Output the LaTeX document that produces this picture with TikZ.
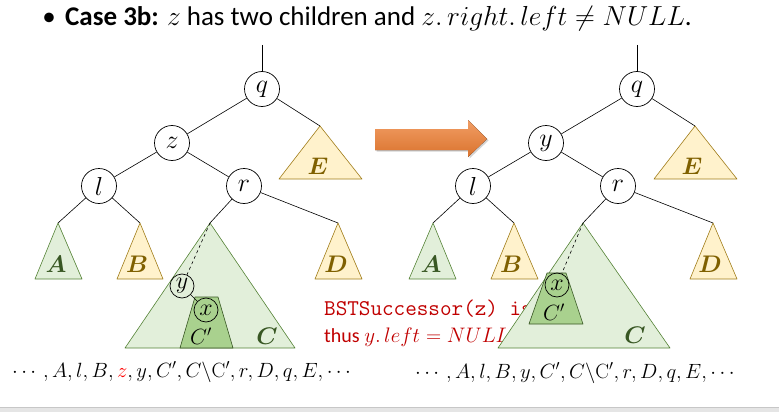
\RequirePackage{fix-cm}
\documentclass[tikz,border=0pt]{standalone}
\usepackage[no-math]{fontspec}
\setmainfont{Carlito}
\usepackage{amsmath,bm}
\usepackage{tkz-euclide}
\usetikzlibrary{shadows}
\definecolor{GreenFill}{RGB}{226,239,218}
\definecolor{GreenLine}{RGB}{84,130,53}
\definecolor{GreenDark}{RGB}{56,87,35}
\definecolor{GoldFill}{RGB}{255,242,204}
\definecolor{GoldLine}{RGB}{160,124,24}
\definecolor{GoldDark}{RGB}{127,96,0}
\definecolor{CpFill}{RGB}{169,209,142}
\definecolor{NoteRed}{RGB}{192,0,0}
\definecolor{ArrowClr}{RGB}{237,125,49}

\tikzset{
  keynode/.style={circle,draw,fill=white,line width=0.7pt,minimum size=35pt,
    inner sep=0pt,font=\fontsize{26}{26}\selectfont},
  smallnode/.style={circle,draw,line width=0.7pt,minimum size=24pt,
    inner sep=0pt,font=\fontsize{24}{24}\selectfont},
  edge/.style={line width=0.6pt},
  greenlbl/.style={text=GreenDark,font=\fontsize{24}{24}\selectfont},
  goldlbl/.style={text=GoldDark,font=\fontsize{24}{24}\selectfont},
  seqtext/.style={anchor=base west,inner sep=0pt,font=\fontsize{20.6}{22}\selectfont}
}

\begin{document}
\begin{tikzpicture}[x=1pt,y=-1pt]
\useasboundingbox (0,0) rectangle (779,412);
\tkzSetUpLine[line width=0.6pt]

% bottom strip
\fill[black!10] (0,407) rectangle (779,412);
\draw[black!22] (0,407) -- (779,407);

% title
\node[anchor=base,inner sep=0pt,font=\fontsize{27}{30}\selectfont] (bul) at (49,26) {\textbullet};
\node[anchor=base west,inner sep=0pt,font=\fontsize{27}{30}\selectfont] (title) at (65,26)
  {\textbf{Case 3b:} {\fontsize{27.5}{30}\selectfont$z$} has two children and
   {\fontsize{27.5}{30}\selectfont$z.\,right.\,left \neq NULL$}.};

% subtree corners, left tree
\tkzDefPoints{58/223/At,35/279/Al,82/279/Ar,
  140/223/Bt,117/279/Bl,163/279/Br,
  338/223/Dt,315/279/Dl,362/279/Dr,
  320/126/Et,279/179/El,362/179/Er,
  210/223/Ct,125/348/Cl,295/348/Cr,
  195/297/Pa,218/297/Pb,233/348/Pc,180/348/Pd}
% subtree corners, right tree
\tkzDefPoints{433/223/At2,409/279/Al2,456/279/Ar2,
  514/223/Bt2,491/279/Bl2,538/279/Br2,
  713/223/Dt2,690/279/Dl2,737/279/Dr2,
  695/126/Et2,654/179/El2,737/179/Er2,
  583/223/Ct2,498/348/Cl2,670/348/Cr2,
  547/273/Pa2,566/273/Pb2,583/324/Pc2,529/324/Pd2}

% left tree subtrees
\tkzFillPolygon[fill=GreenFill](At,Al,Ar)
\tkzDrawPolygon[color=GreenLine](At,Al,Ar)
\tkzFillPolygon[fill=GoldFill](Bt,Bl,Br)
\tkzDrawPolygon[color=GoldLine](Bt,Bl,Br)
\tkzFillPolygon[fill=GoldFill](Dt,Dl,Dr)
\tkzDrawPolygon[color=GoldLine](Dt,Dl,Dr)
\tkzFillPolygon[fill=GoldFill](Et,El,Er)
\tkzDrawPolygon[color=GoldLine](Et,El,Er)
\tkzFillPolygon[fill=GreenFill](Ct,Cl,Cr)
\tkzDrawPolygon[color=GreenLine](Ct,Cl,Cr)
\tkzFillPolygon[fill=CpFill](Pa,Pb,Pc,Pd)
\tkzDrawPolygon[color=GreenDark](Pa,Pb,Pc,Pd)

\node[greenlbl] (lA) at (56,264) {$\bm{A}$};
\node[goldlbl] (lB) at (137,264) {$\bm{B}$};
\node[goldlbl] (lD) at (336,264) {$\bm{D}$};
\node[goldlbl] (lE) at (318,166) {$\bm{E}$};
\node[greenlbl] (lC) at (267,336) {$\bm{C}$};
\node[font=\fontsize{22}{22}\selectfont] (lP) at (201,336) {$C'$};

% left tree keys
\node[keynode] (q) at (262,89) {$q$};
\node[keynode] (z) at (172,143) {$z$};
\node[keynode] (l) at (99,186) {$l$};
\node[keynode] (r) at (244,186) {$r$};
\node[smallnode] (y) at (182,286) {$y$};
\node[smallnode] (x) at (206,310) {$x$};
\coordinate (qin) at (262,45);

\draw[edge] (qin) -- (q);
\draw[edge] (q) -- (z);
\draw[edge] (q) -- (Et);
\draw[edge] (z) -- (l);
\draw[edge] (z) -- (r);
\draw[edge] (l) -- (At);
\draw[edge] (l) -- (Bt);
\draw[edge] (r) -- (Ct);
\draw[edge] (r) -- (Dt);
\draw[edge,dashed] (Ct) -- (y);
\draw[edge] (y) -- (x);

% arrow
\fill[drop shadow={shadow xshift=1.5pt,shadow yshift=-1.5pt,opacity=0.35},
  top color=ArrowClr!75!white,bottom color=ArrowClr!92!black]
  (375,129) -- (468,129) -- (468,120) -- (487,139) -- (468,157)
  -- (468,150) -- (375,150) -- cycle;

% note, partly hidden by the right tree
\node[anchor=base west,inner sep=0pt,text=NoteRed,font=\fontsize{22.5}{22}\ttfamily] (note1)
  at (324,315) {BSTSuccessor(z) is};
\node[anchor=base west,inner sep=0pt,text=NoteRed,font=\fontsize{20}{20}\selectfont] (note2)
  at (324,342) {thus {\fontsize{21}{21}\selectfont$y.\,left = NULL$}};

% right tree subtrees
\tkzFillPolygon[fill=GreenFill](At2,Al2,Ar2)
\tkzDrawPolygon[color=GreenLine](At2,Al2,Ar2)
\tkzFillPolygon[fill=GoldFill](Bt2,Bl2,Br2)
\tkzDrawPolygon[color=GoldLine](Bt2,Bl2,Br2)
\tkzFillPolygon[fill=GoldFill](Dt2,Dl2,Dr2)
\tkzDrawPolygon[color=GoldLine](Dt2,Dl2,Dr2)
\tkzFillPolygon[fill=GoldFill](Et2,El2,Er2)
\tkzDrawPolygon[color=GoldLine](Et2,El2,Er2)
\tkzFillPolygon[fill=GreenFill](Ct2,Cl2,Cr2)
\tkzDrawPolygon[color=GreenLine](Ct2,Cl2,Cr2)
\tkzFillPolygon[fill=CpFill](Pa2,Pb2,Pc2,Pd2)
\tkzDrawPolygon[color=GreenDark](Pa2,Pb2,Pc2,Pd2)

\node[greenlbl] (lA2) at (431,264) {$\bm{A}$};
\node[goldlbl] (lB2) at (511,264) {$\bm{B}$};
\node[goldlbl] (lD2) at (710,264) {$\bm{D}$};
\node[goldlbl] (lE2) at (692,166) {$\bm{E}$};
\node[greenlbl] (lC2) at (635,335) {$\bm{C}$};
\node[font=\fontsize{22}{22}\selectfont] (lP2) at (554,312) {$C'$};

% right tree keys
\node[keynode] (q2) at (637,89) {$q$};
\node[keynode] (y2) at (546,143) {$y$};
\node[keynode] (l2) at (473,186) {$l$};
\node[keynode] (r2) at (618,186) {$r$};
\node[smallnode] (x2) at (557,285) {$x$};
\coordinate (qin2) at (637,45);

\draw[edge] (qin2) -- (q2);
\draw[edge] (q2) -- (y2);
\draw[edge] (q2) -- (Et2);
\draw[edge] (y2) -- (l2);
\draw[edge] (y2) -- (r2);
\draw[edge] (l2) -- (At2);
\draw[edge] (l2) -- (Bt2);
\draw[edge] (r2) -- (Ct2);
\draw[edge] (r2) -- (Dt2);
\draw[edge,dashed] (Ct2) -- (x2);

% in-order sequences
\node[seqtext] (seq1) at (12,377)
  {$\cdots, A, l, B, {\color{red}z}, y, C', C\backslash\mathrm{C}', r, D, q, E, \cdots$};
\node[seqtext] (seq2) at (415,378)
  {$\cdots, A, l, B, y, C', C\backslash\mathrm{C}', r, D, q, E, \cdots$};

\end{tikzpicture}
\end{document}
